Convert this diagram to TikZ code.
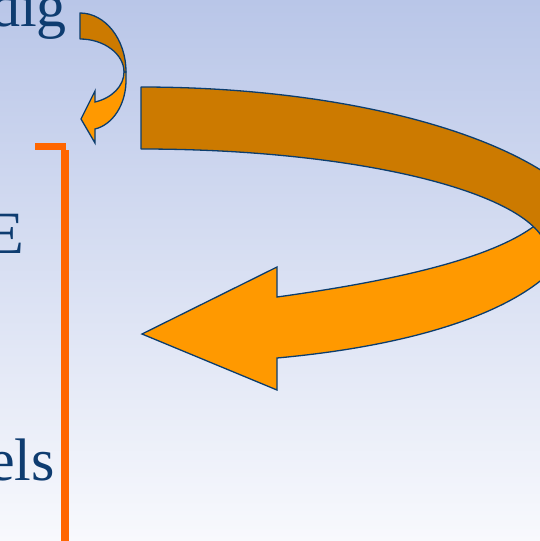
\documentclass[tikz,border=0pt]{standalone}
\usepackage{fontspec}
\setmainfont{Liberation Serif}
\definecolor{bgtop}{HTML}{B9C6E8}
\definecolor{bgbottom}{HTML}{F8F9FD}
\definecolor{textblue}{HTML}{0E3C70}
\definecolor{darkorange}{HTML}{CC7A00}
\definecolor{lightorange}{HTML}{FF9900}
\definecolor{outline}{HTML}{0B3D6E}
\definecolor{marker}{HTML}{FF6600}

\begin{document}
\begin{tikzpicture}[
    x=1pt, y=-1pt,
    slidetext/.style={font=\fontsize{60}{72}\selectfont, text=textblue, inner sep=0pt, anchor=base east},
    backpart/.style={fill=darkorange, draw=outline, line width=1.3pt, line join=round},
    frontpart/.style={fill=lightorange, draw=outline, line width=1.3pt, line join=miter},
    bar/.style={fill=marker}
]

% BACKGROUND
\clip (0,0) rectangle (540,541);
\shade[top color=bgtop, bottom color=bgbottom] (0,0) rectangle (540,541);

% TEXT
\node[slidetext] (word1) at (67,26)  {dig};
\node[slidetext] (word2) at (24,253) {E};
\node[slidetext] (word3) at (55,480) {els};

% BRACKET
\fill[bar] (35,143) rectangle (66,150);
\fill[bar] (61,150) rectangle (69,541);

% SMALL ARROW
\draw[frontpart] (124,72) .. controls (124,86) and (112,98) .. (95,102)
    -- (95,91) -- (81,119) -- (95,143) -- (95,129)
    .. controls (112,125) and (127,105) .. (126,77) -- (126,72) -- cycle;
\draw[backpart] (80,13) .. controls (105,13) and (126,39) .. (126,72)
    -- (124,72) .. controls (124,54) and (104,39) .. (80,39) -- cycle;

% BIG ARROW
\draw[frontpart] (533,227) .. controls (490,258) and (400,280) .. (277,297)
    -- (277,267) -- (142,334) -- (277,390) -- (277,358)
    .. controls (420,345) and (520,310) .. (560,262) -- (620,200) -- cycle;
\draw[backpart] (141,87) .. controls (397,87) and (604,162) .. (604,255)
    -- (548,255) .. controls (548,196) and (366,149) .. (141,149) -- cycle;

\end{tikzpicture}
\end{document}
